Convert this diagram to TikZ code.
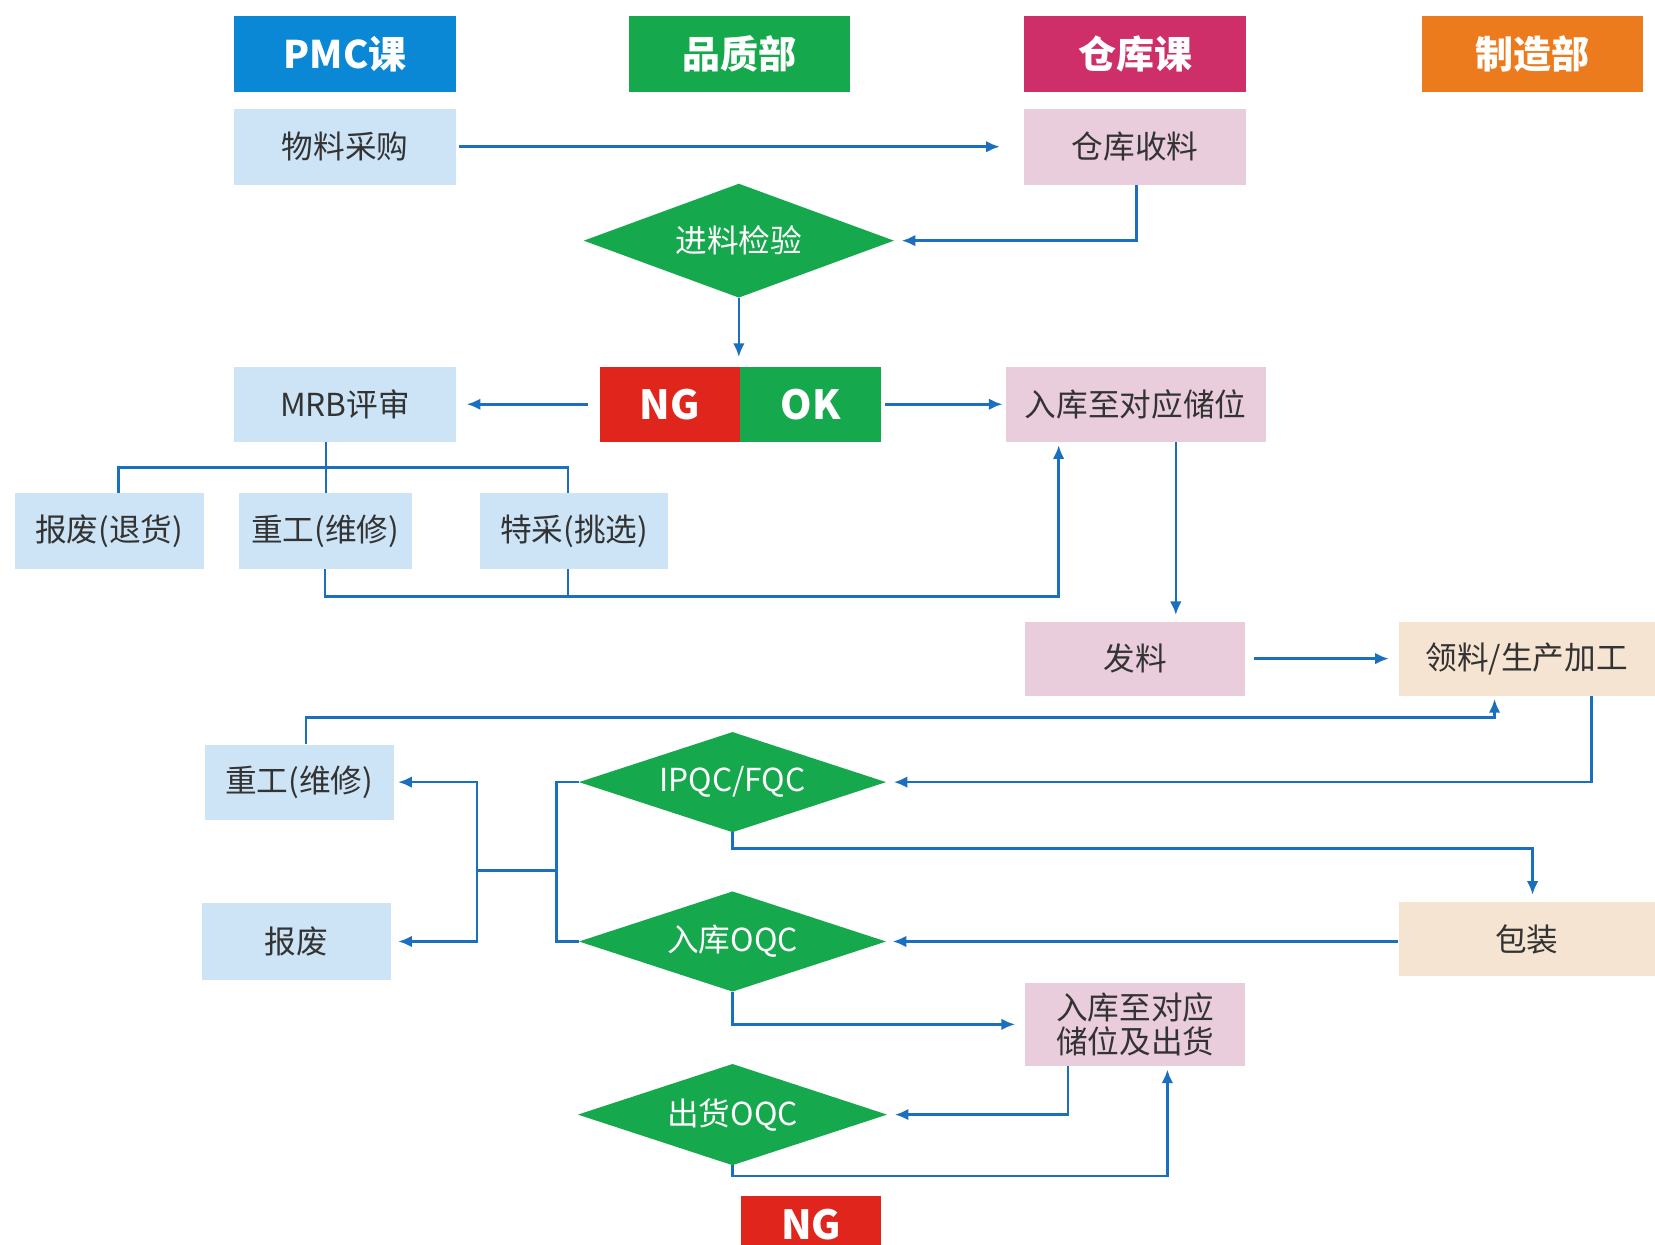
\documentclass[tikz,border=0pt]{standalone}
\usepackage{fontspec}
\setmainfont{Noto Sans CJK SC}
\usetikzlibrary{arrows.meta,shapes.geometric}
\definecolor{hblue}{HTML}{0A88D6}
\definecolor{hgreen}{HTML}{16A84C}
\definecolor{hmag}{HTML}{CF2F68}
\definecolor{horange}{HTML}{EC7B1E}
\definecolor{lbox}{HTML}{CCE4F6}
\definecolor{pbox}{HTML}{EACDDC}
\definecolor{bbox}{HTML}{F5E4D2}
\definecolor{ngred}{HTML}{E0261C}
\definecolor{lblue}{HTML}{1B6FBF}
\definecolor{txt}{HTML}{333333}
\begin{document}
\begin{tikzpicture}[x=1pt,y=-1pt,
  hdr/.style={rectangle, minimum width=210pt, minimum height=72pt, inner sep=0pt, text=white, font=\fontsize{36}{40}\selectfont\bfseries},
  box/.style={rectangle, minimum height=72pt, inner sep=0pt, text=txt, font=\fontsize{30}{34}\selectfont},
  dia/.style={diamond, shape aspect=2.7, inner sep=0pt, fill=hgreen, text=white, font=\fontsize{30}{34}\selectfont},
  tag/.style={rectangle, minimum height=71pt, inner sep=0pt, text=white, font=\fontsize{38}{42}\selectfont\bfseries},
  arr/.style={draw=lblue, line width=2.5pt, -{Latex[length=13pt,width=11pt]}},
  ln/.style={draw=lblue, line width=2.5pt},
]
\useasboundingbox (0,0) rectangle (1568,1179);
\fill[white] (0,0) rectangle (1568,1179);

% headers
\node[hdr, fill=hblue] (h1) at (327,51) {PMC课};
\node[hdr, fill=hgreen] (h2) at (700.5,51) {品质部};
\node[hdr, fill=hmag] (h3) at (1075.5,51) {仓库课};
\node[hdr, fill=horange] (h4) at (1452,51) {制造部};

% nodes
\node[box, fill=lbox, minimum width=210pt] (buy) at (327,139) {物料采购};
\node[box, fill=pbox, minimum width=210pt] (recv) at (1075.5,139) {仓库收料};
\node[dia, minimum width=294pt, minimum height=108pt] (iqc) at (700,228) {进料检验};
\node[tag, fill=ngred, minimum width=133pt] (ng) at (634.5,383) {NG};
\node[tag, fill=hgreen, minimum width=134pt] (ok) at (768,383) {OK};
\node[box, fill=lbox, minimum width=210pt, minimum height=71pt] (mrb) at (327,383) {MRB评审};
\node[box, fill=pbox, minimum width=246pt, minimum height=71pt] (stor) at (1076,383) {入库至对应储位};
\node[box, fill=lbox, minimum width=179pt] (sc1) at (103.5,503) {报废(退货)};
\node[box, fill=lbox, minimum width=164pt] (rw1) at (308,503) {重工(维修)};
\node[box, fill=lbox, minimum width=178pt] (sp) at (544,503) {特采(挑选)};
\node[box, fill=pbox, minimum width=209pt, minimum height=70pt] (fa) at (1075.5,624) {发料};
\node[box, fill=bbox, minimum width=243pt, minimum height=70pt] (make) at (1446.5,624) {领料/生产加工};
\node[box, fill=lbox, minimum width=179pt, minimum height=71pt] (rw2) at (283.5,741) {重工(维修)};
\node[dia, minimum width=291pt, minimum height=95pt] (ipqc) at (694,741) {IPQC/FQC};
\node[box, fill=bbox, minimum width=243pt, minimum height=70pt] (pack) at (1446.5,890) {包装};
\node[dia, minimum width=291pt, minimum height=95pt] (oqc1) at (694,892) {入库OQC};
\node[box, fill=lbox, minimum width=179pt, minimum height=73pt] (sc2) at (280.5,892) {报废};
\node[box, fill=pbox, minimum width=209pt, minimum height=79pt, align=center, font=\fontsize{30}{33}\selectfont] (ship) at (1075.5,970.5) {入库至对应\\储位及出货};
\node[dia, minimum width=293pt, minimum height=96pt] (oqc2) at (694,1056) {出货OQC};
\node[tag, fill=ngred, minimum width=133pt, minimum height=54pt] (ng2) at (768.5,1160) {NG};

% coordinates
\coordinate (t1) at (309,443);
\coordinate (r1) at (1003,565);
\coordinate (j1) at (527,825);
\coordinate (j2) at (452,825);

% connectors
\draw[arr] ([xshift=3pt]buy.east) -- ([xshift=-23pt]recv.west);
\draw[arr] ([xshift=1.5pt]recv.south) |- ([xshift=7pt]iqc.east);
\draw[arr] (iqc.south) -- ([yshift=9pt]iqc.south |- ng.north);
\draw[arr] ([xshift=-11pt]ng.west) -- ([xshift=10pt]mrb.east);
\draw[arr] ([xshift=3pt]ok.east) -- ([xshift=-3pt]stor.west);

\draw[ln] (mrb.south -| t1) -- ([xshift=1pt]rw1.north);
\draw[ln] ([xshift=8.5pt]sc1.north) |- (t1) -| ([xshift=-6pt]sp.north);

\draw[arr] (rw1.south) |- (r1) -- ([yshift=-3pt]r1 |- stor.south);
\draw[ln] ([xshift=-6pt]sp.south) -- ([xshift=-6pt]sp.south |- r1);

\draw[arr] ([xshift=38pt]stor.south) -- ([xshift=38.5pt,yshift=6pt]fa.north);
\draw[arr] ([xshift=8pt]fa.east) -- ([xshift=-9pt]make.west);

\draw[arr] ([xshift=6.5pt]rw2.north) |- (1416,680) -- ([xshift=-30.5pt,yshift=-3pt]make.south);
\draw[arr] ([xshift=61.5pt]make.south) |- ([xshift=7pt]ipqc.east);
\draw[arr] (ipqc.south) -- ++(0,15) -| ([xshift=5.5pt,yshift=7pt]pack.north);
\draw[arr] (pack.west |- oqc1.east) -- ([xshift=6pt]oqc1.east);

\draw[ln] (ipqc.west) -| (j1) |- (oqc1.west);
\draw[ln] (j1) -- (j2);
\draw[arr] (j2) |- ([xshift=4pt]rw2.east);
\draw[arr] (j2) |- ([xshift=7pt]sc2.east);

\draw[arr] (oqc1.south) |- ([xshift=-9pt]ship.west);
\draw[arr] ([xshift=-63.5pt]ship.south) |- ([xshift=7pt]oqc2.east);
\draw[arr] (oqc2.south) -- ++(0,10) -| ([xshift=30.5pt,yshift=-3pt]ship.south);
\end{tikzpicture}
\end{document}
